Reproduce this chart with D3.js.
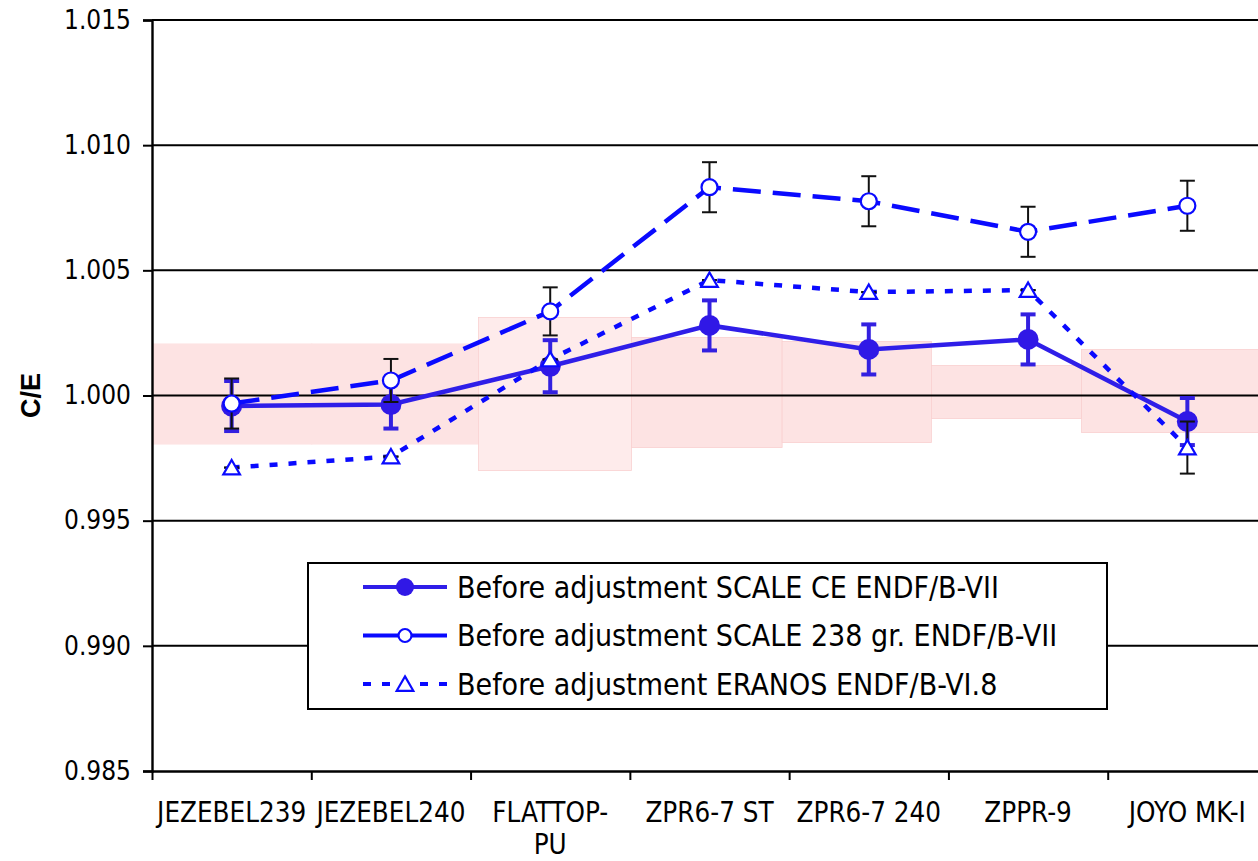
<!DOCTYPE html>
<html>
<head>
<meta charset="utf-8">
<script src="https://cdn.jsdelivr.net/npm/d3@7"></script>
<style>
  html, body { margin: 0; padding: 0; background: #fff; overflow: hidden; }
  text { font-family: "DejaVu Sans Condensed", "DejaVu Sans", sans-serif; }
</style>
</head>
<body>
<div id="chart"></div>
<script>
// benchmarks on the x axis
const categories = ["JEZEBEL239", "JEZEBEL240", "FLATTOP-PU", "ZPR6-7 ST", "ZPR6-7 240", "ZPPR-9", "JOYO MK-I"]
const tickLabels = [["JEZEBEL239"], ["JEZEBEL240"], ["FLATTOP-", "PU"], ["ZPR6-7 ST"], ["ZPR6-7 240"], ["ZPPR-9"], ["JOYO MK-I"]]
const yTicks = [0.985, 0.990, 0.995, 1.000, 1.005, 1.010, 1.015]

// C/E values and 1-sigma errors
const scaleCE = [0.99958, 0.99964, 1.00117, 1.0028, 1.00184, 1.00224, 0.99896]
const scaleCEErr = [0.001, 0.00096, 0.00104, 0.001, 0.001, 0.001, 0.00094]
const scale238 = [0.99968, 1.0006, 1.00336, 1.00832, 1.00776, 1.00654, 1.00758]
const scale238Err = [0.001, 0.00086, 0.00096, 0.001, 0.001, 0.001, 0.001]
const eranos = [0.99712, 0.99756, 1.00144, 1.00461, 1.00413, 1.00421, 0.99792]
const eranosErr = [0, 0, 0, 0, 0, 0, 0.00104]

// experimental uncertainty bands (x in benchmark units)
const bandFrom = [0, 1, 2.05, 3.01, 3.956, 4.893, 5.836]
const bandTo = [1, 2.05, 3.01, 3.956, 4.893, 5.836, 7]
const bandLow = [0.99804, 0.99804, 0.9970, 0.99792, 0.99812, 0.99908, 0.99852]
const bandHigh = [1.00208, 1.00208, 1.00312, 1.00232, 1.00216, 1.0012, 1.00184]

const legendNames = [
  "Before adjustment SCALE CE ENDF/B-VII",
  "Before adjustment SCALE 238 gr. ENDF/B-VII",
  "Before adjustment ERANOS ENDF/B-VI.8"
]

const width = 1258, height = 861
const mLeft = 152, mRight = 1267, mTop = 20, mBottom = 771

const svg = d3.select('#chart').append('svg')
  .attr('width', width)
  .attr('height', height)

const x = d3.scaleLinear().domain([0, categories.length]).range([mLeft, mRight])
const y = d3.scaleLinear().domain([0.985, 1.015]).range([mBottom, mTop])

// bands
svg.append('g').selectAll('rect')
  .data(bandFrom)
  .enter().append('rect')
    .attr('x', (d, i) => x(d))
    .attr('width', (d, i) => x(bandTo[i]) - x(d) + (i == 0 ? 1 : 0))
    .attr('y', (d, i) => y(bandHigh[i]))
    .attr('height', (d, i) => y(bandLow[i]) - y(bandHigh[i]))
    .style('fill', (d, i) => i == 2 ? '#feebeb' : '#fde3e3')
    .style('stroke', (d, i) => i > 1 ? '#f9d0d0' : 'none')
    .style('stroke-width', 0.8)

// grid lines
svg.append('g').selectAll('line')
  .data(yTicks.slice(1))
  .enter().append('line')
    .attr('x1', mLeft).attr('x2', mRight)
    .attr('y1', d => y(d)).attr('y2', d => y(d))
    .style('stroke', '#000')
    .style('stroke-width', 2)

// axes
const yAxis = svg.append('g')
  .attr('transform', `translate(${mLeft},0)`)
  .call(d3.axisLeft(y).tickValues(yTicks).tickFormat(d3.format('.3f')).tickSize(9).tickPadding(12))
yAxis.select('.domain').style('stroke-width', 2.4)
yAxis.selectAll('.tick line').style('stroke-width', 2)
yAxis.selectAll('.tick text').style('font-size', '26px').style('fill', '#000')

const xAxis = svg.append('g')
  .attr('transform', `translate(0,${mBottom})`)
  .call(d3.axisBottom(x).tickValues(d3.range(categories.length + 1)).tickFormat('').tickSize(9).tickSizeOuter(0))
xAxis.select('.domain').style('stroke-width', 2.4)
xAxis.selectAll('.tick line').style('stroke-width', 2)

svg.append('g').selectAll('text')
  .data(tickLabels)
  .enter().append('text')
    .attr('x', (d, i) => x(i + 0.5))
    .attr('y', mBottom + 51)
    .attr('text-anchor', 'middle')
    .style('font-size', '27.5px')
    .each(function (d) {
      d.forEach((t, k) => {
        d3.select(this).append('tspan')
          .attr('x', d3.select(this).attr('x'))
          .attr('dy', k == 0 ? 0 : 32)
          .text(t)
      })
    })

svg.append('text')
  .attr('transform', `translate(40,${y(1.0)}) rotate(-90)`)
  .attr('text-anchor', 'middle')
  .style('font-family', '"Liberation Sans", Arial, sans-serif')
  .style('font-weight', 'bold')
  .style('font-size', '27px')
  .text('C/E')

// series
const series = [
  { vals: scaleCE, err: scaleCEErr, color: '#2f1ee8', dash: null, errColor: '#3320e0', errWidth: 4, marker: 'dot' },
  { vals: scale238, err: scale238Err, color: '#0a0aff', dash: '28,12', errColor: '#111', errWidth: 2, marker: 'circle' },
  { vals: eranos, err: eranosErr, color: '#0a0aff', dash: '8,11', errColor: '#111', errWidth: 2, marker: 'triangle' }
]

const line = d3.line()
  .x((d, i) => x(i + 0.5))
  .y(d => y(d))

const tri = d3.symbol().type(d3.symbolTriangle).size(120)

function drawMarker(g, kind, cx, cy, small) {
  if (kind == 'dot') {
    g.append('circle').attr('cx', cx).attr('cy', cy).attr('r', small ? 9 : 10.5)
      .style('fill', '#3018e6')
  } else if (kind == 'circle') {
    g.append('circle').attr('cx', cx).attr('cy', cy).attr('r', small ? 6.5 : 8)
      .style('fill', '#fff').style('stroke', '#0a0aff').style('stroke-width', 2.2)
  } else {
    g.append('path').attr('d', tri())
      .attr('transform', `translate(${cx},${cy + 2})`)
      .style('fill', '#fff').style('stroke', '#0a0aff').style('stroke-width', 2.2)
  }
}

series.forEach(s => {
  const g = svg.append('g')
  g.append('path')
    .datum(s.vals)
    .attr('d', line)
    .style('fill', 'none')
    .style('stroke', s.color)
    .style('stroke-width', 4.5)
    .style('stroke-dasharray', s.dash)

  // error bars
  s.vals.forEach((v, i) => {
    const cx = x(i + 0.5)
    const e = s.err[i]
    g.append('line')
      .attr('x1', cx).attr('x2', cx)
      .attr('y1', y(v + e)).attr('y2', y(v - e))
      .style('stroke', s.errColor).style('stroke-width', s.errWidth)
    ;[v + e, v - e].forEach(c => {
      g.append('line')
        .attr('x1', cx - 7.5).attr('x2', cx + 7.5)
        .attr('y1', y(c)).attr('y2', y(c))
        .style('stroke', s.errColor).style('stroke-width', s.errWidth)
    })
  })

  s.vals.forEach((v, i) => drawMarker(g, s.marker, x(i + 0.5), y(v), false))
})

// legend
const lg = svg.append('g')
lg.append('rect')
  .attr('x', 308).attr('y', 563)
  .attr('width', 799).attr('height', 146)
  .style('fill', '#fff')
  .style('stroke', '#000')
  .style('stroke-width', 2)

series.forEach((s, i) => {
  const ly = 587 + i * 48.5
  lg.append('line')
    .attr('x1', 363).attr('x2', 447)
    .attr('y1', ly).attr('y2', ly)
    .style('stroke', s.color)
    .style('stroke-width', 4)
    .style('stroke-dasharray', s.dash == '8,11' ? '8,11' : null)
  drawMarker(lg, s.marker, 405, ly, true)
  lg.append('text')
    .attr('x', 457).attr('y', ly)
    .attr('dy', '0.36em')
    .style('font-size', '30px')
    .text(legendNames[i])
})
</script>
</body>
</html>
